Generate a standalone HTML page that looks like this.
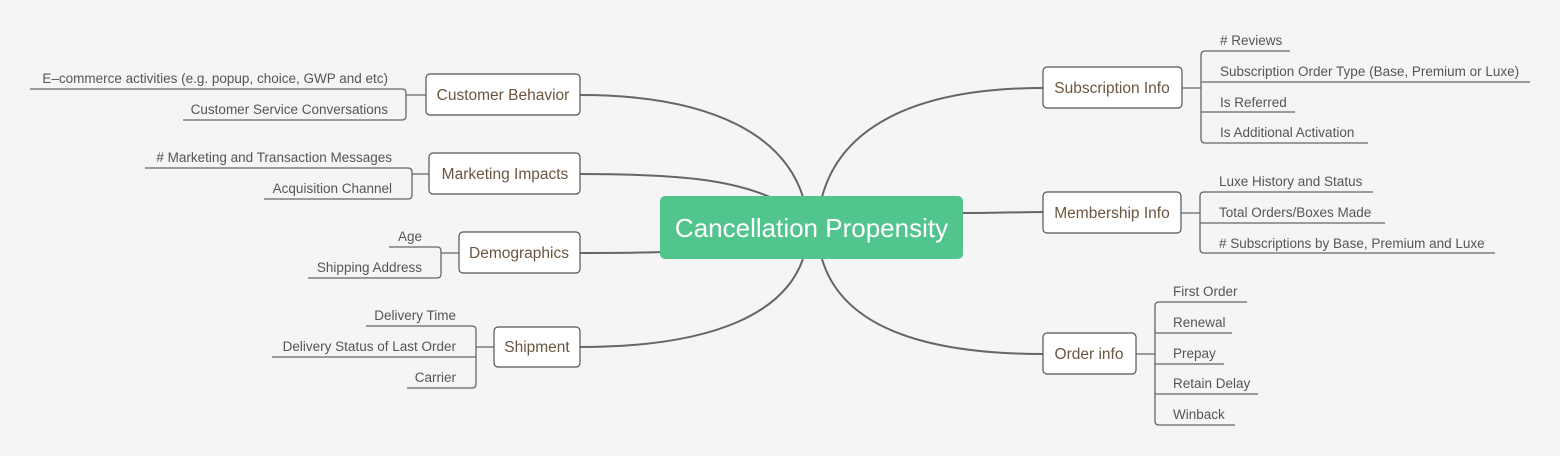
<!DOCTYPE html>
<html><head><meta charset="utf-8"><style>
html,body{margin:0;padding:0;background:#f5f5f5}
svg{display:block}
.l{font-family:"Liberation Sans",sans-serif;font-size:13.5px;fill:#555}
.n{font-family:"Liberation Sans",sans-serif;font-size:15.5px;fill:#6a553f}
</style></head><body>
<svg width="1560" height="456" viewBox="0 0 1560 456" xmlns="http://www.w3.org/2000/svg">
<rect width="1560" height="456" fill="#f5f5f5"/>
<g fill="none" stroke="#666" stroke-width="2">
<path d="M580,95 C720,95 785,140 803,197"/>
<path d="M580,174 C680,174 730,180 770,197"/>
<path d="M580,253 C620,253 640,253 661,252"/>
<path d="M580,347 C720,347 785,310 803,259"/>
<path d="M1043,88 C910,88 840,130 822,197"/>
<path d="M962,213 C1000,213 1020,212 1043,212"/>
<path d="M1043,354 C910,354 840,320 822,259"/>
</g>
<g fill="none" stroke="#666" stroke-width="1.3">
<path d="M30,89 H402 Q406,89 406,93 V116 Q406,120 402,120 H183 M406,95 H426"/>
<path d="M145,168 H408 Q412,168 412,172 V195 Q412,199 408,199 H264 M412,174 H429"/>
<path d="M389,247 H437 Q441,247 441,251 V274 Q441,278 437,278 H308 M441,253 H459"/>
<path d="M366,326 H472 Q476,326 476,330 V384 Q476,388 472,388 H407 M272,357 H476 M476,347 H494"/>
<path d="M1290,51 H1205 Q1201,51 1201,55 V139 Q1201,143 1205,143 H1368 M1201,82 H1530 M1201,112 H1295 M1182,88 H1201"/>
<path d="M1373,192 H1204 Q1200,192 1200,196 V249 Q1200,253 1204,253 H1495 M1200,223 H1385 M1181,213 H1200"/>
<path d="M1247,302 H1159 Q1155,302 1155,306 V421 Q1155,425 1159,425 H1235 M1155,333 H1232 M1155,364 H1224 M1155,394 H1258 M1136,354 H1155"/>
</g>
<rect x="660" y="196" width="303" height="63" rx="5" fill="#52c48d"/>
<text x="811.5" y="237" text-anchor="middle" font-family="Liberation Sans, sans-serif" font-size="26" fill="#fff">Cancellation Propensity</text>
<g fill="#fff" stroke="#555" stroke-width="1.2">
<rect x="426" y="74" width="154" height="41" rx="4"/>
<rect x="429" y="153" width="151" height="41" rx="4"/>
<rect x="459" y="232" width="121" height="41" rx="4"/>
<rect x="494" y="327" width="86" height="40" rx="4"/>
<rect x="1043" y="67" width="139" height="41" rx="4"/>
<rect x="1043" y="192" width="138" height="41" rx="4"/>
<rect x="1043" y="333" width="93" height="41" rx="4"/>
</g>
<g class="n" text-anchor="middle">
<text x="503" y="100">Customer Behavior</text>
<text x="505" y="179">Marketing Impacts</text>
<text x="519" y="258">Demographics</text>
<text x="537" y="352">Shipment</text>
<text x="1112" y="93">Subscription Info</text>
<text x="1112" y="218">Membership Info</text>
<text x="1089" y="359">Order info</text>
</g>
<g class="l" text-anchor="end">
<text x="388" y="83">E–commerce activities (e.g. popup, choice, GWP and etc)</text>
<text x="388" y="114">Customer Service Conversations</text>
<text x="392" y="162">#  Marketing and Transaction Messages</text>
<text x="392" y="193">Acquisition Channel</text>
<text x="422" y="241">Age</text>
<text x="422" y="272">Shipping Address</text>
<text x="456" y="320">Delivery Time</text>
<text x="456" y="351">Delivery Status of Last Order</text>
<text x="456" y="382">Carrier</text>
</g>
<g class="l">
<text x="1220" y="45"># Reviews</text>
<text x="1220" y="76">Subscription Order Type (Base, Premium or Luxe)</text>
<text x="1220" y="107">Is Referred</text>
<text x="1220" y="137">Is Additional Activation</text>
<text x="1219" y="186">Luxe History and Status</text>
<text x="1219" y="217">Total Orders/Boxes Made</text>
<text x="1219" y="248"># Subscriptions by Base, Premium and Luxe</text>
<text x="1173" y="296">First Order</text>
<text x="1173" y="327">Renewal</text>
<text x="1173" y="358">Prepay</text>
<text x="1173" y="388">Retain Delay</text>
<text x="1173" y="419">Winback</text>
</g>
</svg>
</body></html>
